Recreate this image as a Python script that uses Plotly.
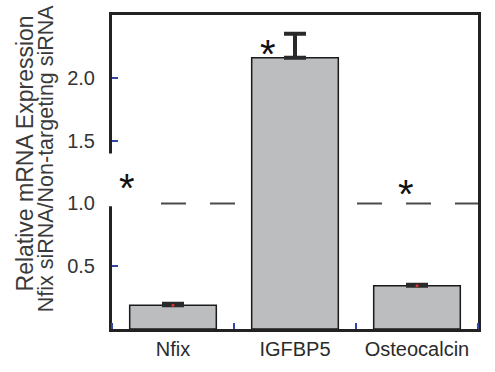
import plotly.graph_objects as go

categories = ["Nfix", "IGFBP5", "Osteocalcin"]
values = [0.19, 2.16, 0.345]
err_plus = [0.012, 0.19, 0.008]
err_minus = [0.0, 0.0, 0.0]
reference_level = 1.0
ytick_vals = [0.0, 0.5, 1.0, 1.5, 2.0]
ytick_text = ["", "0.5", "1.0", "1.5", "2.0"]
y_title_lines = ["Relative mRNA Expression", "Nfix siRNA/Non-targeting siRNA"]

W, H = 495, 372
ml, mr, mt, mb = 112, 17, 13, 37
pw, ph = W - ml - mr, H - mt - mb

def px_x(x):
    return (x - ml) / pw

def px_y(y):
    return (H - mb - y) / ph

xpos = list(range(len(categories)))

fig = go.Figure()
fig.add_trace(go.Bar(
    x=xpos, y=values, width=0.71,
    marker=dict(color="#bcbdbf", line=dict(color="#1a1a1a", width=1.5)),
    error_y=dict(type="data", symmetric=False, array=err_plus, arrayminus=err_minus,
                 color="#2a2a2a", thickness=4, width=11),
    showlegend=False, hoverinfo="skip",
))
fig.add_trace(go.Scatter(
    x=[xpos[0], xpos[2]], y=[values[0], values[2]], mode="markers",
    marker=dict(color="#e03030", size=3), showlegend=False, hoverinfo="skip",
))

fig.add_shape(type="line", xref="paper", yref="y", x0=0, x1=1,
              y0=reference_level, y1=reference_level,
              line=dict(color="#4a4a4a", width=2, dash="25px,24px"), layer="below")

# white patch over the left axis
fig.add_shape(type="rect", xref="paper", yref="paper",
              x0=px_x(103), x1=px_x(140), y0=px_y(209), y1=px_y(155),
              fillcolor="white", line=dict(width=0), layer="above")

font = "Liberation Sans, Arial, sans-serif"
stars = [(127, 190), (268, 53), (406, 197)]
for sx, sy in stars:
    fig.add_annotation(text="*", xref="paper", yref="paper", x=px_x(sx), y=px_y(sy),
                       showarrow=False, font=dict(size=40, color="#111", family=font),
                       xanchor="center", yanchor="middle")

for i, (cx, cy, fs) in enumerate([(25, 155, 23), (46, 160, 21.5)]):
    fig.add_annotation(text=y_title_lines[i], xref="paper", yref="paper",
                       x=px_x(cx), y=px_y(cy), textangle=-90, showarrow=False,
                       font=dict(size=fs, color="#3a3a3a", family=font),
                       xanchor="center", yanchor="middle")

fig.update_layout(
    width=W, height=H, margin=dict(l=ml, r=mr, t=mt, b=mb),
    paper_bgcolor="white", plot_bgcolor="white",
    font=dict(family=font, color="#333"),
    hovermode=False,
    xaxis=dict(range=[-0.5, 2.5], tickvals=xpos, ticktext=categories, ticks="",
               showline=True, linecolor="#222", linewidth=3, mirror=True,
               showgrid=False, zeroline=False, tickfont=dict(size=20, color="#2a2a2a"),
               minor=dict(ticks="inside", tick0=0.5, dtick=1, ticklen=6, tickwidth=1.5,
                          tickcolor="#3344aa", showgrid=False)),
    yaxis=dict(range=[0, 2.5], tickvals=ytick_vals, ticktext=ytick_text,
               ticks="inside", ticklen=6, tickwidth=1.5, tickcolor="#3344aa",
               showline=True, linecolor="#222", linewidth=3, mirror=True,
               showgrid=False, zeroline=False, tickfont=dict(size=20, color="#333"),
               ticklabelstandoff=10),
)

fig.write_html("out.html", config={"displayModeBar": False},
               post_script="document.body.style.margin='0px';")
